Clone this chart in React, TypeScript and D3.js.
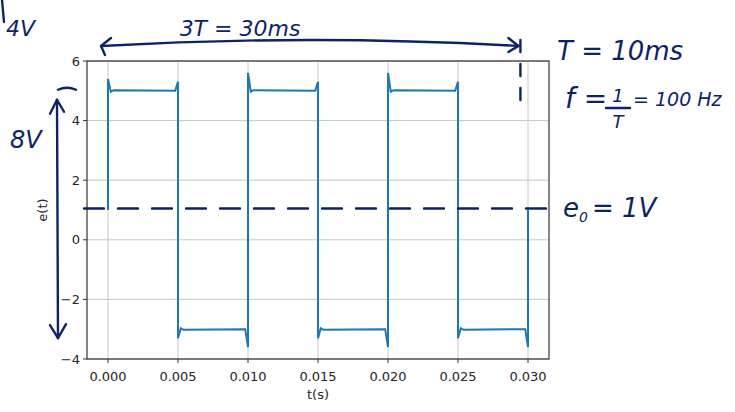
import React from "react";
import * as d3 from "d3";

// Waveform corner points (t in s, e in V)
const tPoints = [
  0, 0, 0.0002, 0.0004, 0.0048, 0.005, 0.005, 0.0052, 0.0054, 0.0098, 0.01, 0.01,
  0.0102, 0.0104, 0.0148, 0.015, 0.015, 0.0152, 0.0154, 0.0198, 0.02, 0.02,
  0.0202, 0.0204, 0.0248, 0.025, 0.025, 0.0252, 0.0254, 0.0298, 0.03, 0.03,
];
const ePoints = [
  1.0, 5.4, 4.97, 5.02, 5.0, 5.3, -3.3, -2.97, -3.02, -3.0, -3.6, 5.6,
  4.97, 5.02, 5.0, 5.3, -3.3, -2.97, -3.02, -3.0, -3.6, 5.6,
  4.97, 5.02, 5.0, 5.3, -3.3, -2.97, -3.02, -3.0, -3.6, 1.0,
];

const xTicks = [0, 0.005, 0.01, 0.015, 0.02, 0.025, 0.03];
const xTickLabels = ["0.000", "0.005", "0.010", "0.015", "0.020", "0.025", "0.030"];
const yTicks = [-4, -2, 0, 2, 4, 6];
const yTickLabels = ["\u22124", "\u22122", "0", "2", "4", "6"];

const W = 735;
const H = 412;
const left = 87, right = 549, top = 61, bottom = 359;
const ink = "#0c2466";

export default function App() {
  const x = d3.scaleLinear().domain([-0.0015, 0.0315]).range([left, right]);
  const y = d3.scaleLinear().domain([-4, 6]).range([bottom, top]);
  const pts = tPoints.map((t, i) => [t, ePoints[i]] as [number, number]);
  const line = d3
    .line<[number, number]>()
    .x((d) => x(d[0]))
    .y((d) => y(d[1]));

  const tickFont = { fontFamily: "DejaVu Sans", fontSize: 13, fill: "#262626" };
  const hand = { fontFamily: "DejaVu Sans", fill: ink, fontStyle: "italic" as const };

  const arrowX0 = x(-0.0005);
  const arrowX1 = x(0.0296);
  const y1 = y(1.05);
  const vx = 57;
  const vTop = y(4.7);
  const vBot = y(-3.3);

  return (
    <svg
      width={W}
      height={H}
      style={{ position: "absolute", left: 0, top: 0, background: "#fff" }}
    >
      {/* grid */}
      {xTicks.map((t) => (
        <line key={"gx" + t} x1={x(t)} x2={x(t)} y1={top} y2={bottom} stroke="#c8c8c8" strokeWidth={1} />
      ))}
      {yTicks.map((v) => (
        <line key={"gy" + v} x1={left} x2={right} y1={y(v)} y2={y(v)} stroke="#c8c8c8" strokeWidth={1} />
      ))}
      {/* signal */}
      <path d={line(pts) || ""} fill="none" stroke="#1f77b4" strokeWidth={2} strokeLinejoin="miter" />
      {/* spines */}
      <rect x={left} y={top} width={right - left} height={bottom - top} fill="none" stroke="#333" strokeWidth={1.2} />
      {/* ticks */}
      {xTicks.map((t, i) => (
        <g key={"xt" + t}>
          <line x1={x(t)} x2={x(t)} y1={bottom} y2={bottom + 4} stroke="#333" strokeWidth={1} />
          <text x={x(t)} y={bottom + 22} textAnchor="middle" {...tickFont}>
            {xTickLabels[i]}
          </text>
        </g>
      ))}
      {yTicks.map((v, i) => (
        <g key={"yt" + v}>
          <line x1={left - 4} x2={left} y1={y(v)} y2={y(v)} stroke="#333" strokeWidth={1} />
          <text x={left - 7} y={y(v) + 4.5} textAnchor="end" {...tickFont}>
            {yTickLabels[i]}
          </text>
        </g>
      ))}
      <text x={(left + right) / 2} y={399} textAnchor="middle" {...tickFont}>
        t(s)
      </text>
      <text
        transform={`translate(47,${(top + bottom) / 2}) rotate(-90)`}
        textAnchor="middle"
        {...tickFont}
      >
        e(t)
      </text>

      {/* handwritten annotations */}
      <g stroke={ink} strokeWidth={2.4} fill="none" strokeLinecap="round" strokeLinejoin="round">
        {/* dashed e0 line */}
        <line x1={84} x2={550} y1={y1} y2={y1} strokeDasharray="20 14" />
        {/* 3T double arrow */}
        <path d={`M${arrowX0},${46} Q${(arrowX0 + arrowX1) / 2},${34} ${arrowX1 - 4},${46}`} />
        <path d={`M${arrowX0 + 10},${38} L${arrowX0},${46} L${arrowX0 + 4},${55}`} />
        <path d={`M${arrowX1 - 14},${38} L${arrowX1 - 4},${46} L${arrowX1 - 14},${52}`} />
        {/* dashed vertical at 3T */}
        <line x1={arrowX1 - 2} x2={arrowX1 - 2} y1={40} y2={100} strokeDasharray="12 12" />
        {/* 8V arrow */}
        <line x1={vx} x2={vx + 1} y1={vTop} y2={vBot} />
        <path d={`M${vx - 7},${vTop + 14} L${vx},${vTop} L${vx + 7},${vTop + 12}`} />
        <path d={`M${vx - 7},${vBot - 13} L${vx + 1},${vBot} L${vx + 9},${vBot - 14}`} />
        <path d={`M${vx + 1},${vTop - 10} Q${vx + 10},${vTop - 14} ${vx + 19},${vTop - 10}`} />
        {/* fraction bar */}
        <line x1={606} x2={630} y1={108} y2={108} />
        <line x1={2} x2={4} y1={0} y2={22} />
      </g>
      <text x={240} y={36} textAnchor="middle" fontSize={22} {...hand}>3T = 30ms</text>
      <text x={557} y={60} fontSize={26} {...hand}>T = 10ms</text>
      <text x={565} y={108} fontSize={28} {...hand}>f =</text>
      <text x={618} y={102} textAnchor="middle" fontSize={18} {...hand}>1</text>
      <text x={618} y={128} textAnchor="middle" fontSize={18} {...hand}>T</text>
      <text x={633} y={106} fontSize={19} {...hand}>= 100 Hz</text>
      <text x={563} y={217} fontSize={26} {...hand}>e</text>
      <text x={579} y={222} fontSize={14} {...hand}>0</text>
      <text x={592} y={217} fontSize={26} {...hand}>= 1V</text>
      <text x={10} y={148} fontSize={24} {...hand}>8V</text>
      <text x={6} y={36} fontSize={22} {...hand}>4V</text>
    </svg>
  );
}
